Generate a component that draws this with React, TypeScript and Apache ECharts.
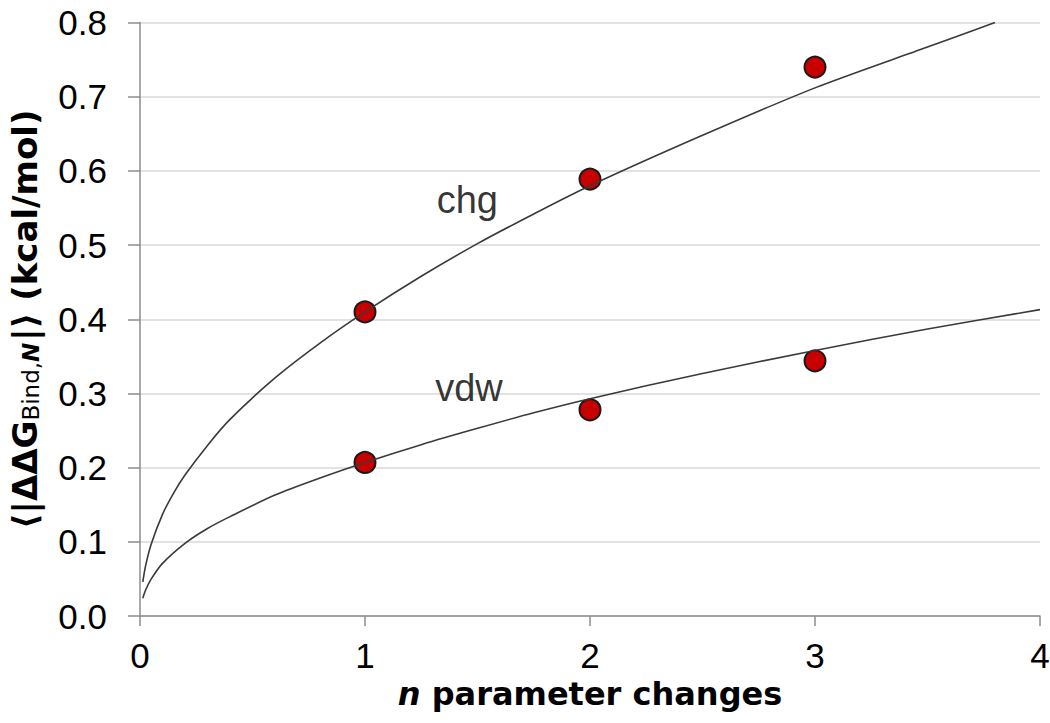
import React, { useEffect, useRef } from "react";
import * as echarts from "echarts";

// Measured points (mean |ΔΔG_Bind,N| in kcal/mol)
const pointsN = [1, 2, 3];
const chgPoints = [0.41, 0.589, 0.74];
const vdwPoints = [0.207, 0.278, 0.344];

// Fitted curves
const chgCurveX = [0.0125, 0.025, 0.05, 0.1, 0.15, 0.2, 0.3, 0.4, 0.6, 0.8, 1, 1.25, 1.5, 1.75, 2, 2.5, 3, 3.5, 3.8];
const chgCurveY = [0.046, 0.068, 0.097, 0.137, 0.166, 0.19, 0.23, 0.265, 0.321, 0.368, 0.41, 0.458, 0.502, 0.542, 0.58, 0.648, 0.712, 0.767, 0.8];
const vdwCurveX = [0.0125, 0.025, 0.05, 0.1, 0.2, 0.3, 0.4, 0.6, 0.8, 1, 1.25, 1.5, 1.75, 2, 2.5, 3, 3.5, 4];
const vdwCurveY = [0.024, 0.035, 0.05, 0.071, 0.098, 0.118, 0.134, 0.163, 0.186, 0.207, 0.231, 0.253, 0.274, 0.293, 0.327, 0.358, 0.387, 0.413];

// Curve labels
const curveLabels = ["chg", "vdw"];
const curveLabelX = [1.455, 1.462];
const curveLabelY = [0.561, 0.307];

const xTicks = [0, 1, 2, 3, 4];

const FONT = "'Liberation Sans', Arial, sans-serif";
const TITLE_FONT = "'DejaVu Sans', 'Liberation Sans', sans-serif";

export default function App() {
  const ref = useRef<HTMLDivElement>(null);
  useEffect(() => {
    document.body.style.margin = "0";
    const chart = echarts.init(ref.current!, undefined, { renderer: "svg" });
    const zip = (xs: number[], ys: number[]) => xs.map((x, i) => [x, ys[i]]);
    chart.setOption({
      animation: false,
      backgroundColor: "#ffffff",
      textStyle: { fontFamily: FONT },
      grid: { left: 140, right: 10, top: 22.6, bottom: 107, containLabel: false, outerBoundsMode: "none" },
      xAxis: {
        type: "value",
        min: xTicks[0],
        max: xTicks[xTicks.length - 1],
        interval: 1,
        name: "{i|n}{b| parameter changes}",
        nameLocation: "middle",
        nameGap: 62,
        nameTextStyle: {
          rich: {
            i: { fontFamily: TITLE_FONT, fontSize: 32, fontWeight: "bold", fontStyle: "italic", color: "#000" },
            b: { fontFamily: TITLE_FONT, fontSize: 32, fontWeight: "bold", color: "#000" },
          },
        },
        axisLine: { show: true, lineStyle: { color: "#8c8c8c", width: 1.5 } },
        axisTick: { show: true, length: 10, lineStyle: { color: "#8c8c8c", width: 1.5 } },
        axisLabel: { fontFamily: FONT, fontSize: 35, color: "#000", margin: 22 },
        splitLine: { show: false },
      },
      yAxis: {
        type: "value",
        min: 0,
        max: 0.8,
        interval: 0.1,
        name: "{b|⟨|ΔΔG}{s|Bind,}{si|N}{b||⟩ (kcal/mol)}",
        nameLocation: "middle",
        nameRotate: 90,
        nameGap: 98,
        nameTextStyle: {
          rich: {
            b: { fontFamily: TITLE_FONT, fontSize: 34, fontWeight: "bold", color: "#000", lineHeight: 34, verticalAlign: "top" },
            s: { fontFamily: TITLE_FONT, fontSize: 23, color: "#000", lineHeight: 23, verticalAlign: "bottom", padding: [16, 0, 0, 0] },
            si: { fontFamily: TITLE_FONT, fontSize: 23, fontStyle: "italic", fontWeight: "bold", color: "#000", lineHeight: 23, verticalAlign: "bottom", padding: [16, 2, 0, 0] },
          },
        },
        axisLine: { show: true, lineStyle: { color: "#8c8c8c", width: 1.5 } },
        axisTick: { show: true, length: 12, lineStyle: { color: "#8c8c8c", width: 1.5 } },
        axisLabel: {
          fontFamily: FONT,
          fontSize: 35,
          color: "#000",
          margin: 33,
          formatter: (v: number) => v.toFixed(1),
        },
        splitLine: { show: true, lineStyle: { color: "#d9d9d9", width: 1.5 } },
      },
      series: [
        {
          name: "chg points",
          type: "scatter",
          data: zip(pointsN, chgPoints),
          symbolSize: 21,
          itemStyle: { color: "#c80000", borderColor: "#1a1a1a", borderWidth: 2, opacity: 1 },
          z: 2,
        },
        {
          name: "vdw points",
          type: "scatter",
          data: zip(pointsN, vdwPoints),
          symbolSize: 21,
          itemStyle: { color: "#c80000", borderColor: "#1a1a1a", borderWidth: 2, opacity: 1 },
          z: 2,
        },
        {
          name: "chg fit",
          type: "line",
          data: zip(chgCurveX, chgCurveY),
          smooth: 0.3,
          showSymbol: false,
          lineStyle: { color: "#3a3a3a", width: 1.6 },
          z: 3,
        },
        {
          name: "vdw fit",
          type: "line",
          data: zip(vdwCurveX, vdwCurveY),
          smooth: 0.3,
          showSymbol: false,
          lineStyle: { color: "#3a3a3a", width: 1.6 },
          z: 3,
        },
        {
          name: "labels",
          type: "scatter",
          data: curveLabels.map((t, i) => ({ value: [curveLabelX[i], curveLabelY[i]], name: t })),
          symbolSize: 0,
          label: {
            show: true,
            position: "inside",
            formatter: (p: any) => p.name,
            fontFamily: FONT,
            fontSize: 38,
            color: "#000",
          },
          z: 4,
        },
      ],
    });
    return () => chart.dispose();
  }, []);
  return <div ref={ref} style={{ width: 1050, height: 723 }} />;
}
